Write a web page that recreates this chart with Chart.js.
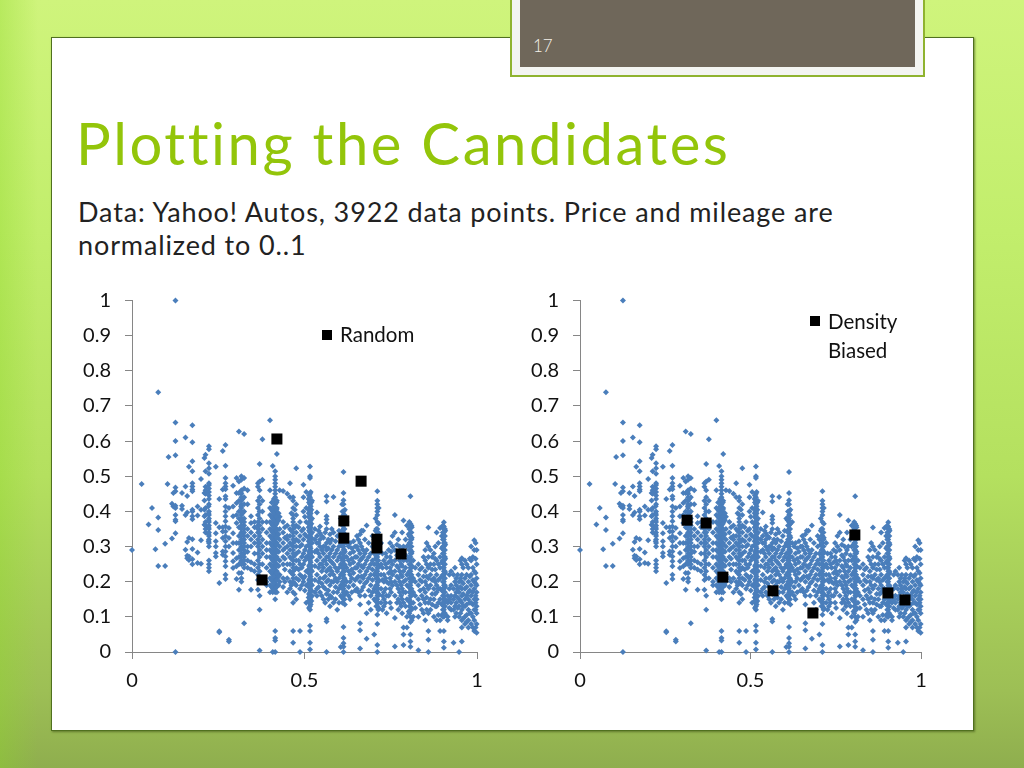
<!DOCTYPE html>
<html>
<head>
<meta charset="utf-8">
<title>Plotting the Candidates</title>
<script src="https://cdn.jsdelivr.net/npm/chart.js@4/dist/chart.umd.min.js"></script>
<style>
html, body { margin: 0; padding: 0; }
body {
    width: 1024px; height: 768px; position: relative; overflow: hidden;
    background:
        linear-gradient(90deg, rgba(140,215,40,.35) 0, rgba(140,215,40,0) 38px),
        linear-gradient(180deg, #cff47c 0, #c2ee6c 30%, #b4e05f 62%, #9dbf55 90%, #8fae4e 100%);
}
#panel {
    position: absolute; left: 51px; top: 37px; width: 921px; height: 692px;
    background: #fff; border: 1px solid #50701f; box-shadow: 1px 1px 2px rgba(60,80,20,.6);
}
#tab {
    position: absolute; left: 512px; top: -12px; width: 395px; height: 71px;
    background: #6f675a; border: 8px solid #f3f4f1; outline: 2px solid #8fb32f;
}
#num { position: absolute; left: 533px; top: 35px; color: #f4f1ea; font: 300 17px "Lato", sans-serif; }
#title {
    position: absolute; left: 76px; top: 108px; color: #93c50a; white-space: nowrap;
    font: 400 58px "Lato", sans-serif; letter-spacing: 2.55px;
}
#sub {
    position: absolute; left: 78px; top: 195px; color: #222; white-space: nowrap;
    font: 400 27px/33px "Lato", sans-serif; letter-spacing: .88px;
}
canvas { position: absolute; top: 285px; }
#left { left: 60px; }
#right { left: 508px; }
.key { position: absolute; color: #111; font: 400 20.5px/29px "Lato", sans-serif; }
.key i { position: absolute; width: 10px; height: 10px; background: #000; }
</style>
</head>
<body>
<div id="panel"></div>
<div id="tab"></div>
<div id="num">17</div>
<div id="title">Plotting the Candidates</div>
<div id="sub">Data: Yahoo! Autos, 3922 data points. Price and mileage are<br>normalized to 0..1</div>
<canvas id="left" width="440" height="420"></canvas>
<canvas id="right" width="440" height="420"></canvas>
<div class="key" style="left:340px;top:320px"><i style="left:-18px;top:10px"></i>Random</div>
<div class="key" style="left:828px;top:307px"><i style="left:-18px;top:9px"></i>Density<br>Biased</div>
<script>
// cada fila: x, y, y, y ...
const cloudLeft = [
    [.0, .29], [.028, .478], [.048, .363], [.058, .41], [.068, .292],
    [.076, .739, .383, .347, .245], [.096, .308, .245], [.103, .478], [.106, .555],
    [.116, .422, .323], [.12, .452, .414],
    [.126, 1, .653, .6, .56, .468, .457, .416, .41, .39, .376, .372, .338, 0],
    [.145, .452, .416, .407], [.155, .61, .471, .39, .291], [.16, .444, .397, .313, .274, .267],
    [.165, .527, .324, .272, .262],
    [.175, .645, .597, .543, .514, .48, .471, .462, .457, .405, .4, .386, .378, .321, .293, .264, .25],
    [.19, .414, .388, .283, .253], [.2, .492, .405, .318, .251],
    [.21, .552, .452, .431, .405, .386, .362],
    [.213, .561, .514, .47, .46, .45, .41, .39, .37, .36, .35, .34],
    [.223, .585, .577, .537, .523, .507, .48, .475, .465, .455, .445, .435, .42, .4, .39, .38, .37, .36, .35, .34, .33, .32, .31, .3, .26, .25, .24, .23],
    [.243, .527, .367, .338, .315, .3, .282, .272],
    [.253, .435, .355, .196, .059, .056], [.263, .572, .462, .355, .343, .324, .286, .277],
    [.271, .589, .53, .495, .48, .471, .463, .443, .435, .414, .4, .386, .372, .357, .343, .329, .315, .3, .286, .272, .258, .244, .22, .208],
    [.281, .41, .353, .324, .3, .035, .03], [.293, .473, .414, .386, .338, .31, .282, .258, .239],
    [.303, .495, .452, .424, .39, .367, .31, .267, .244, .208]
];
const cloudMiddle = [
    [.31, .627, .485, .452, .43, .4, .38, .355, .33, .31, .29, .27, .25, .225, .177],
    [.317, .5, .49, .46, .45, .44, .43, .42, .41, .4, .39, .38, .37, .36, .35, .34, .33, .32, .31, .3, .29, .28, .27, .26, .25, .225, .21, .2],
    [.325, .62, .495, .465, .44, .42, .4, .38, .37, .36, .35, .34, .33, .32, .31, .3, .29, .28, .27, .26, .25, .24, .082],
    [.335, .46, .42, .35, .33, .3, .285, .26, .24], [.345, .386, .367, .34, .32, .3, .255, .235, .177],
    [.355, .37, .355, .33, .31, .28, .25, .23],
    [.365, .48, .47, .43, .41, .39, .37, .36, .35, .34, .32, .31, .3, .28, .26, .24, .22, .205, .177],
    [.37, .535, .485, .46, .44, .42, .4, .38, .36, .34, .33, .31, .29, .27, .25, .23, .21, .16, .12, .004],
    [.378, .605, .49, .43, .4, .37, .35, .32, .3, .28, .25, .21], [.39, .37, .34, .31, .29, .27, .24, .2, .19],
    [.4, .659, .46, .41, .39, .37, .35, .33, .31, .29, .27, .25, .23, .21, .19, .17],
    [.408, .529, .4, .38, .36, .34, .32, .3, .28, .26, .24, .22, .2, .18, .17, .0],
    [.415, .514, .5, .49, .48, .47, .46, .45, .44, .43, .42, .41, .4, .39, .38, .37, .36, .35, .34, .33, .32, .31, .3, .29, .28, .27, .26, .25, .24, .23, .22, .21, .2, .19, .18, .17, .15, .06, .04, .033, 0],
    [.42, .563, .43, .41, .39, .37, .35, .33, .31, .29, .27, .25, .23, .21, .19, .17],
    [.428, .46, .385, .35, .32, .3, .26, .22, .2],
    [.438, .458, .37, .34, .31, .29, .27, .25, .21, .185], [.45, .45, .36, .33, .32, .3, .28, .25, .21, .17],
    [.458, .48, .44, .35, .33, .31, .29, .27, .25, .23, .2, .18],
    [.467, .44, .43, .41, .39, .38, .37, .36, .35, .34, .33, .32, .31, .3, .29, .28, .27, .26, .25, .24, .23, .22, .21, .2, .17, .14, .06, .026],
    [.476, .523, .42, .39, .36, .34, .32, .3, .28, .26, .24, .21, .19, .15],
    [.487, .37, .33, .3, .25, .22, .18, .06, .0],
    [.497, .476, .44, .4, .35, .32, .28, .25, .2, .21],
    [.505, .455, .41, .37, .33, .3, .27, .23, .19, .14],
    [.516, .528, .5, .495, .45, .44, .43, .42, .41, .4, .39, .38, .37, .36, .35, .34, .33, .32, .31, .3, .29, .28, .27, .26, .25, .24, .23, .22, .21, .2, .19, .18, .17, .16, .15, .14, .13, .12, .075, .06, .026, .007],
    [.522, .43, .38, .34, .31, .27, .23, .19, .16],
    [.536, .397, .33, .31, .29, .26, .22, .18, .16], [.545, .357, .338, .32, .3, .27, .25, .21, .17],
    [.555, .325, .3, .28, .26, .24, .21, .185, .15],
    [.564, .443, .428, .386, .377, .367, .35, .31, .29, .27, .25, .23, .2, .165, .094, .087, 0],
    [.574, .335, .31, .28, .26, .24, .22, .19, .16, .13], [.584, .441, .34, .3, .27, .25, .22, .2, .17, .14]
];
const cloudRight = [
    [.595, .33, .29, .26, .23, .2, .17, .12],
    [.605, .38, .31, .28, .25, .22, .19, .16, .014],
    [.613, .512, .452, .432, .42, .4, .39, .38, .37, .36, .35, .34, .33, .32, .31, .3, .29, .28, .27, .26, .25, .24, .23, .22, .21, .2, .19, .18, .17, .16, .15, .071, .04, .025, .015, 0],
    [.622, .37, .31, .27, .24, .2, .17], [.632, .31, .28, .25, .22, .2, .15], [.642, .315, .285, .255, .225, .19],
    [.652, .33, .3, .27, .24, .21, .18], [.661, .335, .31, .28, .26, .23, .2, .16, .135, .082, .062, .01],
    [.67, .345, .29, .27, .24, .21, .185], [.68, .36, .29, .26, .23, .2, .11, .038],
    [.692, .28, .25, .22, .19, .16, .12], [.702, .32, .28, .25, .22, .18, .15, .05],
    [.711, .457, .43, .42, .41, .4, .39, .37, .35, .34, .33, .32, .31, .3, .29, .28, .27, .26, .25, .24, .23, .22, .21, .2, .19, .18, .17, .16, .15, .14, .13, .106, .08, .02, 0],
    [.722, .31, .25, .22, .18, .14], [.73, .26, .22, .2, .17, .15, .13], [.738, .27, .24, .2, .16, .11],
    [.748, .31, .27, .24, .21, .18, .14], [.755, .33, .3, .25, .22, .19], [.762, .39, .34, .29, .26, .23, .2, .16, .097, .016],
    [.772, .32, .27, .24, .21, .18, .15, .12], [.78, .28, .25, .22, .19, .16, .13],
    [.787, .374, .3, .26, .23, .2, .17, .14, .07, .05, .02], [.797, .36, .3, .26, .22, .19, .15, .1, .07],
    [.807, .443, .365, .355, .34, .33, .32, .31, .3, .29, .28, .27, .26, .25, .24, .23, .22, .21, .2, .19, .18, .17, .16, .14, .12, .1, .085, .05, .03, .015],
    [.815, .26, .21, .17, .14, .1], [.83, .25, .22, .19, .15, .1, .005], [.84, .24, .2, .16, .12],
    [.85, .29, .26, .23, .2, .17, .14, .09], [.859, .354, .3, .27, .24, .21, .18, .14, .11, .06, .035, 0],
    [.865, .29, .25, .22, .19, .15, .12], [.875, .28, .25, .21, .18, .15, .1], [.883, .34, .26, .22, .19, .17, .13, .09],
    [.893, .353, .27, .24, .21, .18, .15, .09, .06],
    [.904, .369, .357, .35, .34, .33, .32, .31, .3, .29, .28, .27, .26, .25, .24, .23, .22, .21, .2, .19, .18, .17, .16, .15, .14, .13, .12, .11, .1, .06, .03, .012],
    [.915, .16, .14, .1, .09], [.925, .23, .19, .16, .14, .12], [.932, .22, .18, .15, .12, .026],
    [.94, .21, .19, .17, .14, .11], [.948, .2, .17, .15, .13, .1, .0], [.956, .267, .25, .22, .2, .18, .16, .14, .12, .09, .07, .03],
    [.965, .26, .21, .18, .15, .13, .1, .08], [.975, .24, .2, .17, .15, .12, .09, .07],
    [.983, .3, .26, .22, .19, .16, .14, .11, .08], [.992, .318, .29, .23, .2, .18, .15, .12, .09, .06],
    [.999, .29, .25, .21, .19, .17, .15, .13, .11, .08, .055]
];
// zonas donde la nube se ve casi solida
const cloudDense = [
    [.222, .415, .395, .375, .355, .335, .315], [.316, .455, .415, .375, .335, .295, .255], [.32, .435, .395, .355, .315, .275],
    [.405, .425, .405, .385, .365, .345, .325, .305, .285, .265, .245, .225, .205, .185],
    [.411, .435, .415, .395, .375, .355, .335, .315, .295, .275, .255, .235, .215, .195, .175],
    [.419, .425, .405, .385, .365, .345, .325, .305, .285, .265, .245, .225, .205, .185],
    [.425, .395, .375, .335, .285, .245, .215, .19],
    [.443, .355, .325, .295, .265, .235, .2], [.462, .395, .345, .305, .265, .225, .19],
    [.472, .405, .355, .315, .275, .235, .195, .165],
    [.483, .355, .315, .285, .26, .235, .205], [.492, .345, .305, .27, .24, .215, .19], [.501, .385, .335, .29, .26, .215, .175],
    [.512, .435, .395, .355, .315, .275, .235, .195, .155], [.52, .425, .405, .365, .325, .285, .245, .205, .175, .145],
    [.53, .35, .32, .285, .245, .205, .17], [.541, .345, .31, .28, .24, .2, .185], [.55, .33, .29, .25, .23, .195, .16],
    [.56, .34, .3, .26, .215, .18, .14], [.569, .32, .295, .27, .235, .205, .175, .15], [.579, .35, .32, .29, .255, .23, .2, .155], [.59, .315, .28, .24, .21, .185, .15],
    [.6, .345, .3, .27, .24, .21, .18, .14], [.609, .42, .375, .345, .305, .265, .225, .185, .155],
    [.617, .405, .365, .325, .285, .245, .205, .165, .135], [.628, .3, .26, .23, .185, .16], [.637, .295, .265, .235, .21, .17],
    [.647, .3, .27, .24, .205, .175], [.656, .32, .29, .25, .215, .17], [.665, .345, .3, .265, .245, .215, .175],
    [.675, .32, .28, .25, .22, .195, .16], [.686, .31, .27, .24, .21, .175, .14], [.697, .33, .3, .26, .235, .205, .17],
    [.706, .38, .345, .305, .265, .225, .185, .145], [.715, .41, .365, .325, .285, .245, .205, .165, .125], [.726, .28, .24, .205, .16, .12],
    [.735, .28, .25, .21, .18, .14], [.744, .29, .255, .225, .195, .16], [.751, .285, .26, .23, .2, .17, .125],
    [.768, .305, .275, .245, .215, .19, .14], [.776, .3, .26, .23, .2, .17, .14], [.783, .34, .29, .245, .215, .18, .15, .11], [.793, .32, .275, .24, .205, .17, .13],
    [.802, .36, .335, .305, .265, .225, .185, .145, .115], [.811, .355, .325, .285, .245, .205, .165, .125, .09], [.821, .24, .2, .16, .125],
    [.835, .235, .205, .175, .135], [.845, .27, .215, .18, .15, .11], [.854, .31, .25, .215, .19, .155, .12], [.87, .27, .235, .205, .165, .135],
    [.879, .3, .265, .235, .2, .165, .13], [.888, .31, .25, .205, .18, .14, .105], [.898, .33, .295, .255, .215, .175, .135, .105],
    [.908, .345, .305, .265, .225, .185, .145, .105], [.92, .22, .18, .15, .125], [.936, .24, .2, .16, .13, .1],
    [.944, .22, .18, .155, .125], [.952, .26, .21, .185, .145, .11], [.96, .24, .195, .165, .13, .095], [.97, .25, .22, .185, .16, .135, .105, .085],
    [.979, .265, .215, .175, .14, .11], [.988, .27, .24, .205, .17, .135, .1, .07], [.996, .31, .265, .225, .195, .16, .14, .12, .07]
];
// franjas verticales llenas
const cloudStripes = [
    [.513, .445, .425, .405, .385, .365, .345, .325, .305, .285, .265, .245, .225, .205, .185, .165, .145, .125],
    [.518, .455, .415, .395, .375, .355, .335, .315, .295, .275, .255, .235, .215, .195, .175, .155, .135],
    [.61, .4, .38, .36, .34, .32, .3, .28, .26, .24, .22, .2, .18, .16, .14],
    [.616, .39, .37, .35, .33, .31, .29, .27, .25, .23, .21, .19, .17, .15],
    [.708, .35, .33, .31, .29, .27, .25, .23, .21, .19, .17, .15, .13],
    [.714, .34, .32, .3, .28, .26, .24, .22, .2, .18, .16, .14, .12],
    [.804, .37, .35, .33, .31, .29, .27, .25, .23, .21, .19, .17, .15, .13, .11],
    [.81, .36, .34, .32, .3, .28, .26, .24, .22, .2, .18, .16, .14, .12],
    [.901, .36, .34, .32, .3, .28, .26, .24, .22, .2, .18, .16, .14, .12, .1],
    [.907, .35, .33, .31, .29, .27, .25, .23, .21, .19, .17, .15, .13, .11]
];

const randomX = [.42, .664, .614, .614, .71, .71, .78, .377];
const randomY = [.606, .486, .373, .324, .321, .296, .279, .205];
const densityX = [.314, .37, .419, .566, .683, .806, .903, .953];
const densityY = [.375, .367, .213, .174, .111, .333, .168, .148];

const yTicks = [0, .1, .2, .3, .4, .5, .6, .7, .8, .9, 1];
const xTicks = [0, .5, 1];

const AXIS_COLOR = '#868686';
const TICK_FONT = { family: 'Lato', size: 20 };

// pasa las filas a puntos {x, y}
function toPoints(rows) {
    return rows.flatMap(([x, ...ys]) => ys.map(y => ({ x, y })));
}

function createPanel(id, xs, ys, label, plotWidth, yAxisWidth) {
    const cloud = [cloudLeft, cloudMiddle, cloudRight, cloudDense, cloudStripes].flatMap(toPoints);
    new Chart(document.getElementById(id).getContext('2d'), {
        type: 'scatter',
        data: {
            datasets: [
                {
                    label,
                    data: xs.map((x, i) => ({ x, y: ys[i] })),
                    pointStyle: 'rect',
                    pointRadius: 7.8,
                    backgroundColor: '#000',
                    borderWidth: 0,
                    clip: false
                },
                {
                    label: 'Data',
                    data: cloud,
                    pointStyle: 'rectRot',
                    pointRadius: 3,
                    backgroundColor: '#4a7ebb',
                    borderWidth: 0,
                    clip: false
                }
            ]
        },
        options: {
            responsive: false,
            animation: false,
            layout: { padding: { top: 15.5, right: 440 - yAxisWidth - plotWidth, left: 0, bottom: 0 } },
            plugins: { legend: { display: false }, tooltip: { enabled: false } },
            scales: {
                x: {
                    min: 0, max: 1,
                    afterBuildTicks: axis => { axis.ticks = xTicks.map(value => ({ value })); },
                    afterFit: axis => { axis.height = 53; axis.paddingLeft = 0; axis.paddingRight = 0; },
                    border: { color: AXIS_COLOR },
                    grid: { drawOnChartArea: false, drawTicks: true, tickLength: 7, color: AXIS_COLOR },
                    ticks: { color: '#111', font: TICK_FONT, padding: 10, maxRotation: 0, callback: v => String(v) }
                },
                y: {
                    min: 0, max: 1,
                    afterBuildTicks: axis => { axis.ticks = yTicks.map(value => ({ value })); },
                    afterFit: axis => { axis.width = yAxisWidth; axis.paddingTop = 0; axis.paddingBottom = 0; },
                    border: { color: AXIS_COLOR },
                    grid: { drawOnChartArea: false, drawTicks: true, tickLength: 7, color: AXIS_COLOR },
                    ticks: { color: '#111', font: TICK_FONT, padding: 14, callback: v => String(v) }
                }
            }
        }
    });
}

createPanel('left', randomX, randomY, 'Random', 345, 72);
createPanel('right', densityX, densityY, 'Density Biased', 341, 72);
</script>
</body>
</html>
